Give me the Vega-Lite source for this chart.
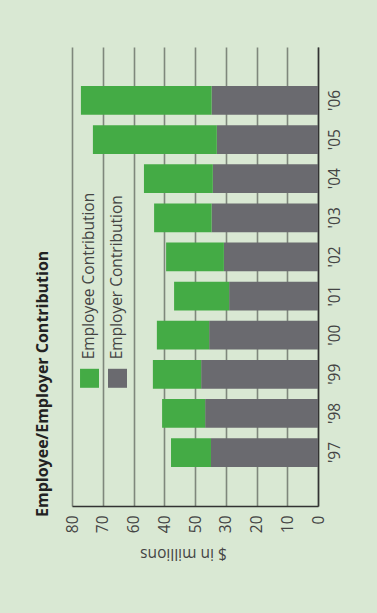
{
  "$schema": "https://vega.github.io/schema/vega-lite/v6.json",
  "width": 246,
  "height": 459,
  "autosize": {"type": "none"},
  "padding": {"left": 72, "top": 47, "right": 59, "bottom": 107},
  "background": "#d9e8d3",
  "title": {
    "text": "Employee/Employer Contribution",
    "orient": "left",
    "anchor": "start",
    "frame": "group",
    "offset": 14,
    "dx": -11,
    "font": "Open Sans",
    "fontSize": 16,
    "fontWeight": "bold",
    "color": "#222222"
  },
  "config": {
    "view": {"stroke": null},
    "font": "Open Sans"
  },
  "datasets": {
    "contrib": [
      {"year": "'06", "series": "Employer Contribution", "value": 34.6},
      {"year": "'06", "series": "Employee Contribution", "value": 42.5},
      {"year": "'05", "series": "Employer Contribution", "value": 32.9},
      {"year": "'05", "series": "Employee Contribution", "value": 40.3},
      {"year": "'04", "series": "Employer Contribution", "value": 34.2},
      {"year": "'04", "series": "Employee Contribution", "value": 22.4},
      {"year": "'03", "series": "Employer Contribution", "value": 34.6},
      {"year": "'03", "series": "Employee Contribution", "value": 18.7},
      {"year": "'02", "series": "Employer Contribution", "value": 30.6},
      {"year": "'02", "series": "Employee Contribution", "value": 18.8},
      {"year": "'01", "series": "Employer Contribution", "value": 28.9},
      {"year": "'01", "series": "Employee Contribution", "value": 17.9},
      {"year": "'00", "series": "Employer Contribution", "value": 35.4},
      {"year": "'00", "series": "Employee Contribution", "value": 17.0},
      {"year": "'99", "series": "Employer Contribution", "value": 38.0},
      {"year": "'99", "series": "Employee Contribution", "value": 15.7},
      {"year": "'98", "series": "Employer Contribution", "value": 36.7},
      {"year": "'98", "series": "Employee Contribution", "value": 14.0},
      {"year": "'97", "series": "Employer Contribution", "value": 34.8},
      {"year": "'97", "series": "Employee Contribution", "value": 13.0}
    ]
  },
  "encoding": {
    "y": {
      "field": "year",
      "type": "nominal",
      "sort": ["'06", "'05", "'04", "'03", "'02", "'01", "'00", "'99", "'98", "'97"],
      "scale": {"paddingInner": 0.267, "paddingOuter": 1.14},
      "axis": {
        "orient": "right",
        "title": null,
        "ticks": false,
        "grid": false,
        "domain": true,
        "domainColor": "#333333",
        "domainWidth": 1.5,
        "labelAngle": 270,
        "labelAlign": "center",
        "labelBaseline": "top",
        "labelPadding": 9,
        "labelFont": "Open Sans",
        "labelFontSize": 15.5,
        "labelColor": "#444444"
      }
    },
    "color": {
      "field": "series",
      "type": "nominal",
      "scale": {"domain": ["Employee Contribution", "Employer Contribution"], "range": ["#44ab45", "#6a6a6f"]},
      "legend": null
    }
  },
  "layer": [
    {
      "data": {"name": "contrib"},
      "mark": {"type": "bar"},
      "encoding": {
        "x": {
          "field": "value",
          "type": "quantitative",
          "stack": "zero",
          "scale": {"domain": [0, 80], "reverse": true, "nice": false},
          "axis": {
            "orient": "bottom",
            "tickCount": 9,
            "labelOverlap": false,
            "labelExpr": "datum.value == 50 ? '40' : datum.value == 40 ? '50' : datum.label",
            "grid": true,
            "gridColor": "#7f877c",
            "gridWidth": 1.6,
            "ticks": false,
            "domain": true,
            "domainColor": "#333333",
            "domainWidth": 1.5,
            "labelAngle": 270,
            "labelAlign": "right",
            "labelBaseline": "middle",
            "labelPadding": 9,
            "labelFont": "Open Sans",
            "labelFontSize": 15.5,
            "labelColor": "#444444",
            "title": "$ in millions",
            "titleFont": "Open Sans",
            "titleFontSize": 15.5,
            "titleFontWeight": "normal",
            "titleColor": "#444444",
            "titleAngle": 180,
            "titleAlign": "center",
            "titleBaseline": "middle",
            "titleX": 111,
            "titleY": 47
          }
        },
        "order": {"field": "series", "sort": "descending"}
      }
    },
    {
      "data": {"values": [{"series": "Employee Contribution"}]},
      "mark": {"type": "point", "shape": "M-1,-0.58H1V1.42H-1Z", "filled": true, "opacity": 1, "size": 361},
      "encoding": {"x": {"datum": 74.3, "type": "quantitative"}, "y": {"datum": "'99"}}
    },
    {
      "data": {"values": [{"series": "Employer Contribution"}]},
      "mark": {"type": "point", "shape": "M-1,-0.58H1V1.42H-1Z", "filled": true, "opacity": 1, "size": 361},
      "encoding": {"x": {"datum": 65.2, "type": "quantitative"}, "y": {"datum": "'99"}}
    },
    {
      "data": {"values": [{"series": "Employee Contribution"}]},
      "mark": {"type": "text", "angle": 270, "align": "left", "baseline": "middle", "dx": 15, "font": "Open Sans", "fontSize": 15.5, "color": "#444444"},
      "encoding": {"x": {"datum": 74.6, "type": "quantitative"}, "y": {"datum": "'99"}, "text": {"field": "series"}, "color": {"value": "#444444"}}
    },
    {
      "data": {"values": [{"series": "Employer Contribution"}]},
      "mark": {"type": "text", "angle": 270, "align": "left", "baseline": "middle", "dx": 15, "font": "Open Sans", "fontSize": 15.5, "color": "#444444"},
      "encoding": {"x": {"datum": 65.4, "type": "quantitative"}, "y": {"datum": "'99"}, "text": {"field": "series"}, "color": {"value": "#444444"}}
    }
  ]
}
